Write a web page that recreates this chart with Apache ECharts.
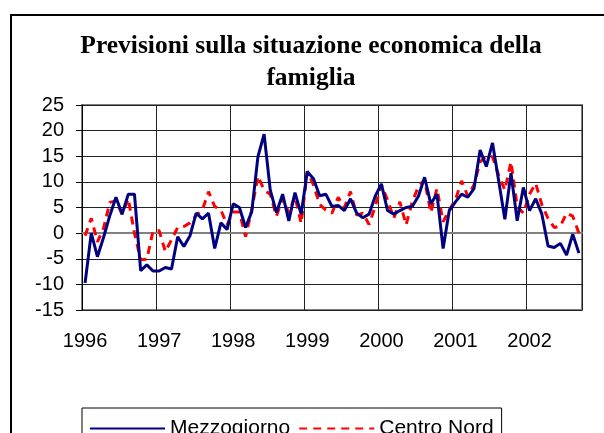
<!DOCTYPE html>
<html>
<head>
<meta charset="utf-8">
<script src="https://cdn.jsdelivr.net/npm/echarts@6/dist/echarts.min.js"></script>
<style>
html,body{margin:0;padding:0;background:#fff;}
#main{width:604px;height:433px;}
</style>
</head>
<body>
<div id="main"></div>
<script>
var years = ['1996','1997','1998','1999','2000','2001','2002'];
var monthsLastYear = 9;
var yTicks = {min: -15, max: 25, interval: 5};

var mezzogiorno = [
  -9.7, 0.0, -4.6, -0.8, 3.4, 7.0, 3.7, 7.6, 7.6, -7.3, -6.2, -7.4,
  -7.4, -6.7, -7.0, -0.7, -2.6, -0.5, 3.9, 2.8, 3.9, -3.0, 2.0, 0.7,
  5.7, 5.0, 1.1, 4.2, 14.9, 19.3, 8.4, 4.0, 7.6, 2.4, 7.9, 3.7,
  12.0, 10.6, 7.3, 7.6, 5.2, 5.4, 4.4, 6.7, 3.9, 3.0, 3.7, 7.2,
  9.6, 4.4, 3.7, 4.4, 5.0, 5.2, 7.2, 10.9, 5.7, 7.6, -3.0, 4.4,
  6.1, 7.6, 7.0, 8.7, 16.2, 13.0, 17.6, 10.2, 2.7, 11.7, 2.4, 8.9,
  4.4, 6.7, 3.7, -2.5, -2.8, -2.0, -4.3, -0.2, -3.9
];
var centroNord = [
  -0.5, 2.9, -1.7, 1.0, 6.0, 6.3, 3.7, 6.7, 0.0, -5.2, -5.1, 0.4,
  0.5, -3.6, -1.3, 1.1, 1.3, 2.0, 3.5, 4.5, 8.1, 5.2, 4.5, 1.6,
  4.1, 4.1, -0.7, 4.6, 11.1, 8.4, 7.6, 3.3, 6.8, 4.0, 7.2, 1.9,
  12.1, 9.4, 5.6, 4.5, 3.9, 7.0, 5.0, 8.1, 3.5, 3.9, 1.7, 5.2,
  9.4, 6.5, 2.9, 6.1, 1.6, 6.1, 9.1, 10.4, 4.0, 8.7, 2.2, 4.5,
  6.5, 10.2, 7.2, 9.4, 13.9, 15.0, 14.9, 11.3, 8.4, 13.9, 5.2, 3.9,
  7.6, 9.7, 5.5, 2.9, 1.1, 1.4, 3.9, 3.3, 0.0
];

var categories = [];
years.forEach(function (y, k) {
  var n = (k === years.length - 1) ? monthsLastYear : 12;
  for (var m = 1; m <= n; m++) {
    categories.push(y + '-' + (m < 10 ? '0' + m : m));
  }
});

var sans = 'Liberation Sans, Arial, sans-serif';
var chart = echarts.init(document.getElementById('main'), null, {renderer: 'canvas'});
chart.setOption({
  animation: false,
  backgroundColor: '#fff',
  graphic: [{
    type: 'rect',
    shape: {x: 11, y: 15, width: 620, height: 450},
    style: {fill: 'none', stroke: '#000', lineWidth: 2},
    z: -1
  }],
  title: {
    text: 'Previsioni sulla situazione economica della\nfamiglia',
    left: 311,
    top: 30,
    padding: 0,
    textAlign: 'center',
    textStyle: {
      fontFamily: 'Liberation Serif, Times New Roman, serif',
      fontWeight: 'bold',
      fontSize: 25.5,
      lineHeight: 32,
      color: '#000'
    }
  },
  legend: {
    left: 82,
    top: 408,
    padding: [10, 8, 10, 7],
    itemWidth: 75,
    itemHeight: 14,
    itemGap: 8,
    borderColor: '#000',
    borderWidth: 1,
    itemStyle: {color: 'rgba(0,0,0,0)', borderColor: 'rgba(0,0,0,0)', borderWidth: 0},
    textStyle: {fontFamily: sans, fontSize: 21, color: '#000'},
    data: ['Mezzogiorno', 'Centro Nord']
  },
  grid: {
    left: 82, top: 105, width: 500, height: 205,
    show: true, borderColor: '#808080', borderWidth: 2
  },
  xAxis: {
    type: 'category',
    data: categories,
    boundaryGap: true,
    axisLine: {lineStyle: {color: '#808080', width: 2}},
    axisTick: {show: false, interval: 11},
    axisLabel: {
      interval: 11,
      margin: 21,
      fontFamily: sans,
      fontSize: 20,
      color: '#000',
      formatter: function (v) { return v.slice(0, 4); }
    },
    splitLine: {show: true, interval: 11, lineStyle: {color: '#222', width: 1}}
  },
  yAxis: {
    type: 'value',
    min: yTicks.min, max: yTicks.max, interval: yTicks.interval,
    axisLine: {show: true, lineStyle: {color: '#000', width: 1}},
    axisTick: {show: true, length: 6, lineStyle: {color: '#000'}},
    axisLabel: {margin: 18, fontFamily: sans, fontSize: 20, color: '#000'},
    splitLine: {show: true, lineStyle: {color: '#222', width: 1}}
  },
  series: [{
    name: 'Mezzogiorno',
    type: 'line',
    data: mezzogiorno,
    symbol: 'none',
    lineStyle: {color: '#000080', width: 3},
    itemStyle: {color: '#000080'},
    z: 3
  }, {
    name: 'Centro Nord',
    type: 'line',
    data: centroNord,
    symbol: 'none',
    lineStyle: {color: '#ff0000', width: 3, type: [8, 6]},
    itemStyle: {color: '#ff0000'},
    z: 2
  }]
});
</script>
</body>
</html>
